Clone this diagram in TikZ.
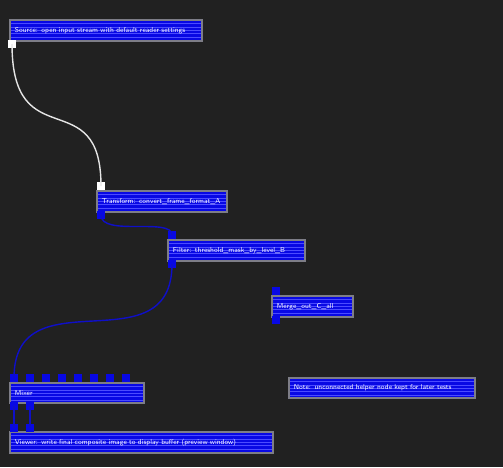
\documentclass[tikz,border=0pt]{standalone}
\usepackage{tikz}
\usetikzlibrary{positioning}
\definecolor{graphBg}{RGB}{33,33,33}
\definecolor{graphBlue}{RGB}{8,8,228}
\definecolor{graphStripe}{RGB}{75,75,255}
\definecolor{graphFrame}{RGB}{125,125,135}
\definecolor{graphWire}{RGB}{15,15,200}
\tikzset{
  graph/node/.style={draw=graphFrame, line width=1.1pt, fill=graphBlue,
                     anchor=north west, inner xsep=0.1cm, inner ysep=0pt,
                     minimum height=0.42cm, align=left, text=white,
                     font=\sffamily\fontsize{4}{4.4}\selectfont,
                     path picture={
                       \foreach \k in {1,...,5}
                         \draw[graphStripe, line width=0.3pt]
                           ([yshift=-\k*1.95pt]path picture bounding box.north west) --
                           ([yshift=-\k*1.95pt]path picture bounding box.north east);
                     }},
  graph/port/.style={fill=graphBlue, draw=none, minimum size=0.16cm,
                     inner sep=0pt},
  graph/white port/.style={graph/port, fill=white},
  graph/wire/.style={line width=0.8pt, draw=graphWire},
  graph/white wire/.style={graph/wire, draw=white!90!black},
}

\begin{document}
\begin{tikzpicture}[x=0.02cm, y=-0.02cm]

  % ---------------- canvas ----------------
  \fill[graphBg] (0,0) rectangle (503,467);
  \useasboundingbox (0,0) rectangle (503,467);

  % ---------------- nodes ----------------
  \node[graph/node, text width=3.64cm] (source) at (9,19)
    {Source: open input stream with default reader settings};
  \node[graph/node, text width=2.40cm] (convert) at (96,190)
    {Transform: convert\_frame\_format\_A};
  \node[graph/node, text width=2.54cm] (threshold) at (167,239)
    {Filter: threshold\_mask\_by\_level\_B};
  \node[graph/node, text width=1.42cm] (merge) at (271,295)
    {Merge\_out\_C\_all};
  \node[graph/node, text width=2.48cm, minimum height=0.40cm] (mixer) at (9,382)
    {Mixer};
  \node[graph/node, text width=5.06cm] (viewer) at (9,431)
    {Viewer: write final composite image to display buffer (preview window)};
  \node[graph/node, text width=3.52cm, minimum height=0.40cm] (note) at (288,377)
    {Note: unconnected helper node kept for later tests};

  % ---------------- ports ----------------
  \node[graph/white port] (sourceOut) at (12,44) {};
  \node[graph/white port] (convertIn) at (101,186) {};
  \node[graph/port] (convertOut) at (101,215) {};
  \node[graph/port] (thresholdIn) at (172,235) {};
  \node[graph/port] (thresholdOut) at (172,264) {};
  \node[graph/port] (mergeIn) at (276,291) {};
  \node[graph/port] (mergeOut) at (276,320) {};
  \foreach \k in {1,...,8}
    \node[graph/port] (mixerIn\k) at ({14+16*(\k-1)},378) {};
  \foreach \k in {1,2} {
    \node[graph/port] (mixerOut\k) at ({14+16*(\k-1)},406) {};
    \node[graph/port] (viewerIn\k) at ({14+16*(\k-1)},428) {};
  }

  % ---------------- wires ----------------
  \draw[graph/white wire] (sourceOut.center)
    .. controls +(0,115) and +(0,-105) .. (convertIn.center);
  \draw[graph/wire] (convertOut.center)
    .. controls +(0,22) and +(0,-18) .. (thresholdIn.center);
  \draw[graph/wire] (thresholdOut.center)
    .. controls +(0,105) and +(0,-105) .. (mixerIn1.center);
  \foreach \k in {1,2}
    \draw[graph/wire] (mixerOut\k.center) -- (viewerIn\k.center);

\end{tikzpicture}
\end{document}
